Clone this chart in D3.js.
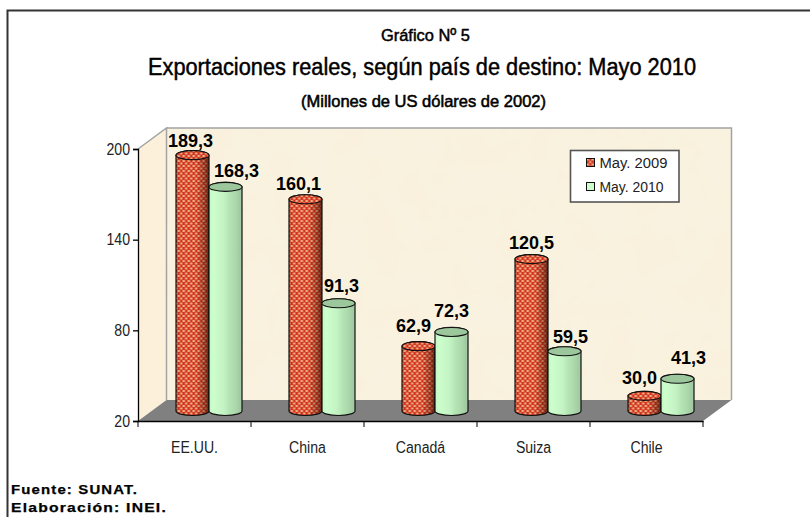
<!DOCTYPE html>
<html><head><meta charset="utf-8">
<script src="https://cdnjs.cloudflare.com/ajax/libs/d3/7.8.5/d3.min.js"></script>
<style>
html,body{margin:0;padding:0;background:#fff;overflow:hidden}
svg{display:block;font-family:"Liberation Sans",Arial,sans-serif}
</style></head><body>
<svg id="c" width="810" height="517"></svg>
<script>
const categories = ["EE.UU.", "China", "Canadá", "Suiza", "Chile"];
const seriesNames = ["May. 2009", "May. 2010"];
const may2009 = [189.3, 160.1, 62.9, 120.5, 30.0];
const may2010 = [168.3, 91.3, 72.3, 59.5, 41.3];
const valueTicks = [20, 80, 140, 200];
const titleLines = ["Gráfico Nº 5", "Exportaciones reales, según país de destino: Mayo 2010", "(Millones de US dólares de 2002)"];
const footerLines = ["Fuente: SUNAT.", "Elaboración: INEI."];

const svg = d3.select("#c");
const defs = svg.append("defs");

const plot = {left:138, right:703, bottom:421, top:149, dx:28.5, dy:21};
const y = d3.scaleLinear().domain([20,200]).range([plot.bottom, plot.top]);
const x0 = d3.scaleBand().domain(categories).range([plot.left, plot.right]);
const x1 = d3.scaleBand().domain(seriesNames).range([38, 104]);
const fmt = v => v.toFixed(1).replace(".", ",");

function grad(id, stops){
  const g = defs.append("linearGradient").attr("id",id).attr("x1",0).attr("y1",0).attr("x2",1).attr("y2",0);
  stops.forEach(s=>g.append("stop").attr("offset",s[0]).attr("stop-color",s[1]).attr("stop-opacity",s[2]===undefined?1:s[2]));
}
grad("greenBody",[[0,"#c4f6c4"],[0.12,"#ccffcc"],[0.45,"#c4f2c4"],[0.62,"#b4e4b4"],[0.8,"#acd8ac"],[0.92,"#a2cba2"],[1,"#a4cca4"]]);
grad("redShade",[[0,"#000",0.1],[0.1,"#000",0],[0.62,"#000",0],[0.85,"#401000",0.35],[1,"#200800",0.7]]);

const pat = defs.append("pattern").attr("id","dots").attr("patternUnits","userSpaceOnUse").attr("width",5).attr("height",5);
pat.append("rect").attr("width",5).attr("height",5).attr("fill","#d4301e");
pat.append("rect").attr("x",0).attr("y",0).attr("width",2.5).attr("height",2).attr("fill","#eab184");
pat.append("rect").attr("x",2.5).attr("y",2.5).attr("width",2.5).attr("height",2).attr("fill","#eab184");

const tex = defs.append("filter").attr("id","tex").attr("x",0).attr("y",0).attr("width","100%").attr("height","100%");
tex.append("feTurbulence").attr("type","fractalNoise").attr("baseFrequency",0.03).attr("numOctaves",3).attr("seed",4).attr("result","n");
tex.append("feColorMatrix").attr("in","n").attr("type","matrix")
  .attr("values","0 0 0 0 0.95  0 0 0 0 0.86  0 0 0 0 0.66  0.5 0 0 0 -0.16").attr("result","c");
tex.append("feComposite").attr("in","c").attr("in2","SourceGraphic").attr("operator","over");

// outer frame
svg.append("path").attr("d","M7.5,517V10.5H810").attr("fill","none").attr("stroke","#333").attr("stroke-width",2);

// titles: condensed heavy lettering, fitted to the reference widths
const tt = svg.append("g").attr("text-anchor","middle").attr("fill","#000");
[[titleLines[0],425.5,40.5,17,89,0.5],[titleLines[1],422,74.5,23.5,548,0.45],[titleLines[2],423.5,107,16.5,245,0.55]].forEach(t=>{
  tt.append("text").text(t[0]).attr("x",t[1]).attr("y",t[2]).attr("font-size",t[3])
    .attr("textLength",t[4]).attr("lengthAdjust","spacingAndGlyphs")
    .attr("stroke","#000").attr("stroke-width",t[5]);
});

// walls
const bx0 = plot.left+plot.dx, bx1 = plot.right+plot.dx, by0 = plot.bottom-plot.dy, by1 = plot.top-plot.dy;
svg.append("rect").attr("x",bx0).attr("y",by1).attr("width",bx1-bx0).attr("height",by0-by1)
  .attr("fill","#f9f2e0").attr("filter","url(#tex)");
svg.append("path").attr("d",`M${bx0},${by1}H${bx1}V${by0}`).attr("fill","none").attr("stroke","#a3a3a3").attr("stroke-width",1.5);
svg.append("path").attr("d",`M${plot.left},${plot.top}L${bx0},${by1}V${by0}L${plot.left},${plot.bottom}Z`)
  .attr("fill","#fcf0da");
svg.append("path").attr("d",`M${plot.left},${plot.top}L${bx0},${by1}V${by0}`).attr("fill","none").attr("stroke","#a3a3a3").attr("stroke-width",1.5);
svg.append("path").attr("d",`M${plot.left},${plot.bottom}L${bx0},${by0}H${bx1}L${plot.right},${plot.bottom}Z`).attr("fill","#808080");

// axes
const yAxis = svg.append("g").attr("transform",`translate(${plot.left},0)`)
  .call(d3.axisLeft(y).tickValues(valueTicks).tickSize(5).tickPadding(3));
const xAxis = svg.append("g").attr("transform",`translate(0,${plot.bottom})`)
  .call(d3.axisBottom(x0).tickSize(0).tickPadding(21));
xAxis.selectAll(".xt").data(d3.range(categories.length+1)).enter().append("line").attr("class","xt")
  .attr("x1",i=>plot.left+i*x0.step()).attr("x2",i=>plot.left+i*x0.step()).attr("y1",0).attr("y2",6).attr("stroke","#000");
[yAxis,xAxis].forEach(a=>{
  a.selectAll("text").attr("font-family",'"Liberation Sans",Arial,sans-serif').attr("font-size",16).attr("fill","#222");
  a.selectAll(".domain,.tick line").attr("stroke","#000").attr("stroke-width",1.3);
  // condensed tick lettering, as in the reference
  a.selectAll(".tick text").each(function(){
    const n = this.getComputedTextLength();
    d3.select(this).attr("textLength",n*0.88).attr("lengthAdjust","spacingAndGlyphs");
  });
});

// cylinders
const rx = x1.bandwidth()/2, ry = 4.5, lift = 10;
const rows = [];
categories.forEach((c,i)=>{
  rows.push({c,s:seriesNames[0],v:may2009[i],k:0});
  rows.push({c,s:seriesNames[1],v:may2010[i],k:1});
});
const bars = svg.append("g").selectAll("g").data(rows).enter().append("g")
  .attr("transform",d=>`translate(${x0(d.c)+x1(d.s)+rx},0)`);
const bodyPath = d => {
  const t = y(d.v)-lift, b = y(20)-lift;
  return `M${-rx},${t}V${b}A${rx},${ry} 0 0 0 ${rx},${b}V${t}A${rx},${ry} 0 0 0 ${-rx},${t}Z`;
};
bars.append("path").attr("d",bodyPath).attr("fill",d=>d.k?"url(#greenBody)":"url(#dots)");
bars.filter(d=>!d.k).append("path").attr("d",bodyPath).attr("fill","url(#redShade)");
bars.append("path").attr("d",bodyPath).attr("fill","none").attr("stroke","#111").attr("stroke-width",1.2);
bars.append("ellipse").attr("cx",0).attr("cy",d=>y(d.v)-lift).attr("rx",rx).attr("ry",ry)
  .attr("fill",d=>d.k?"#9cc79c":"url(#dots)").attr("stroke","#111").attr("stroke-width",1.1);

// value labels: hand-placed in the source chart, so each has its own nudge
const labelNudge = [[-2,-8],[11,-10],[-7,-9],[3,-11],[-5,-14],[0,-15],[0,-10],[6,-8],[-5,-12],[11,-15]];
svg.append("g").selectAll("text").data(rows).enter().append("text")
  .text(d=>fmt(d.v))
  .attr("x",(d,i)=>x0(d.c)+x1(d.s)+rx+labelNudge[i][0])
  .attr("y",(d,i)=>y(d.v)-lift+labelNudge[i][1])
  .attr("text-anchor","middle").attr("font-size",18).attr("font-weight","bold").attr("fill","#000");

// legend
const leg = svg.append("g").attr("transform","translate(570.5,150.5)");
leg.append("rect").attr("width",108.5).attr("height",51.5).attr("fill","#fff").attr("stroke","#555").attr("stroke-width",1.6);
seriesNames.forEach((s,i)=>{
  const g = leg.append("g").attr("transform",`translate(16,${8+i*24})`);
  g.append("rect").attr("width",8).attr("height",8).attr("fill",i?"#ccffcc":"url(#dots)").attr("stroke","#111").attr("stroke-width",1);
  g.append("text").text(s).attr("x",13).attr("y",9.5).attr("font-size",14).attr("fill","#222")
    .attr("textLength",i?64:68).attr("lengthAdjust","spacingAndGlyphs");
});

// footer
svg.append("g").selectAll("text").data(footerLines).enter().append("text")
  .text(d=>d).attr("x",11).attr("y",(d,i)=>494+i*18)
  .attr("font-size",13).attr("font-weight","bold").attr("fill","#000").attr("letter-spacing",1)
  .attr("stroke","#000").attr("stroke-width",0.25)
  .attr("textLength",(d,i)=>i?156:127).attr("lengthAdjust","spacingAndGlyphs");
</script>
</body></html>
